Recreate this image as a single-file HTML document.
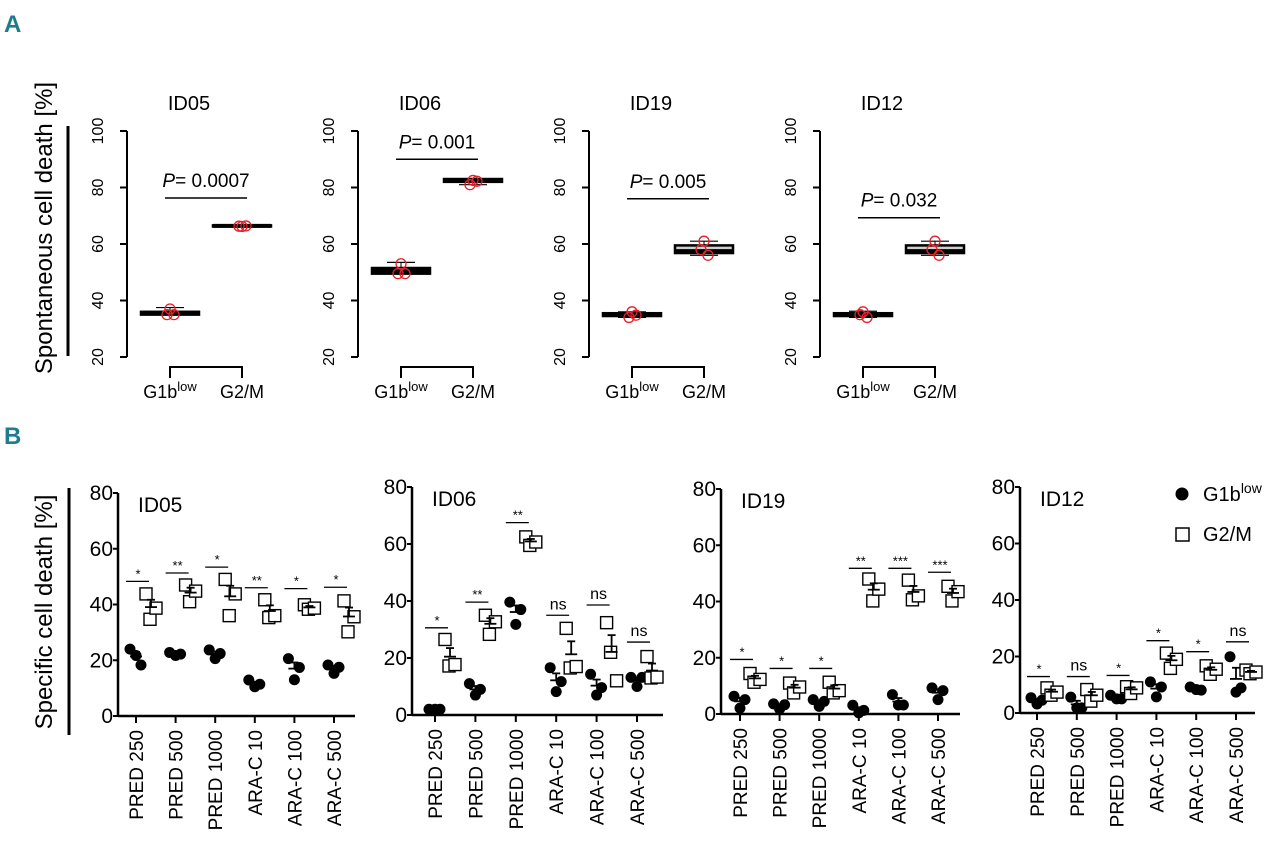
<!DOCTYPE html>
<html><head><meta charset="utf-8"><style>
html,body{margin:0;padding:0;background:#fff}
svg{display:block;font-family:"Liberation Sans Narrow","Liberation Sans",sans-serif}
</style></head><body>
<svg id="fig" width="1280" height="848" viewBox="0 0 1280 848" xmlns="http://www.w3.org/2000/svg">
<text x="4" y="32" font-size="24" font-weight="bold" fill="#1d7d8c">A</text>
<text x="4" y="444" font-size="24" font-weight="bold" fill="#1d7d8c">B</text>
<text transform="translate(52,228) rotate(-90)" text-anchor="middle" font-size="24">Spontaneous cell death [%]</text>
<line x1="68" y1="126" x2="68" y2="356" stroke="#000" stroke-width="3"/>
<text transform="translate(52,612) rotate(-90)" text-anchor="middle" font-size="24">Specific cell death [%]</text>
<line x1="69" y1="488" x2="69" y2="735" stroke="#000" stroke-width="3"/>
<g id="gA"></g><g id="gB"></g>
<circle cx="1182" cy="494" r="6.5" fill="#000"/>
<text x="1203" y="501" font-size="20">G1b<tspan dy="-8" font-size="14">low</tspan></text>
<rect x="1176" y="528" width="13" height="13" fill="#fff" stroke="#000" stroke-width="1.5"/>
<text x="1203" y="541" font-size="20">G2/M</text>
</svg>
<script>
// ---------- Panel A data ----------
const aTitles = ["ID05","ID06","ID19","ID12"];
const aPvals = ["0.0007","0.001","0.005","0.032"];
const aBarY = [76.3, 90, 76, 69.3];
const aG1bPts = [[37,35,35],[53,49.5,49.5],[36,34,34.8],[36,35,34]];
const aG2mPts = [[66.2,66.3,66.4],[82.5,81,82.2],[61,58,56],[61,58,56]];
// boxes: [whiskerLow, q1, median, q3, whiskerHigh]
const aG1bBox = [[35,35,35.5,36,37.5],[49.5,49.5,50.5,51.5,53.5],[34,34.5,35,35.5,36],[34,34.5,35,35.5,36.2]];
const aG2mBox = [[66.2,66.2,66.4,66.6,66.6],[81,82,82.5,83,83],[56,56.8,57.5,59.5,61],[56,56.8,57.5,59.5,61]];
const aTicks = [20,40,60,80,100];

// ---------- Panel B data ----------
const bTitles = ["ID05","ID06","ID19","ID12"];
const bCats = ["PRED 250","PRED 500","PRED 1000","ARA-C 10","ARA-C 100","ARA-C 500"];
const bTicks = [0,20,40,60,80];
const bG1b = [
 [[24,21.7,18.3],[22.8,21.7,22.2],[23.7,20.6,22.4],[12.9,10.5,11.4],[20.6,13,17.4],[18.3,15.3,17.5]],
 [[2,2,2],[11,7,9],[39.6,31.8,37],[16.6,8.2,11.7],[14.3,7,9.6],[13.2,10,13.2]],
 [[6.3,2.1,5.1],[3.6,1.8,3.3],[5.1,2.7,4.5],[3.1,0.4,1.3],[6.9,3.2,3.2],[9.3,5.1,8.3]],
 [[5.4,3.2,4.5],[5.6,1.8,1.8],[6.3,5,5],[11,5.7,9.2],[9.2,8.3,8.1],[19.9,7.4,8.9]]
];
const bG2m = [
 [[43.8,34.7,38.7],[47,41,44.8],[49,36,43.8],[41.7,35.3,36],[39.9,38.3,38.7],[41.3,30.2,35.6]],
 [[26.5,17.2,17.7],[35,28.3,32.7],[62.5,59.5,60.7],[30.4,16.5,17],[32.4,22,12],[20.5,13,13.3]],
 [[14.4,11.3,12.3],[11,7.5,9.6],[11.3,7.5,8.3],[48,40.2,44.4],[47.6,40.6,42],[45.4,40.2,43.5]],
 [[8.9,6.3,7.4],[8.3,4.2,6.3],[9.3,6.9,8.9],[21.2,15.8,19],[16.7,13.7,15.5],[15.2,13.9,14.5]]
];
const bSig = [
 ["*","**","*","**","*","*"],
 ["*","**","**","ns","ns","ns"],
 ["*","*","*","**","***","***"],
 ["*","ns","*","*","*","ns"]
];
const bSigY = [
 [48.3,51.3,53.4,46,45.7,46.2],
 [30.6,39.6,67.5,35,38.6,25.6],
 [19.4,16.2,16.2,51.8,51.8,50.4],
 [12.9,12.9,13.3,25.6,21.7,25.2]
];

const NS="http://www.w3.org/2000/svg";
function mk(parent,tag,attrs,text){const e=document.createElementNS(NS,tag);for(const k in attrs)e.setAttribute(k,attrs[k]);if(text!==undefined)e.textContent=text;parent.appendChild(e);return e;}
function mean(a){return a.reduce((s,v)=>s+v,0)/a.length;}
function sem(a){const m=mean(a);const sd=Math.sqrt(a.reduce((s,v)=>s+(v-m)*(v-m),0)/(a.length-1));return sd/Math.sqrt(a.length);}

// ---------- draw panel A ----------
const gA=document.getElementById('gA');
aTitles.forEach((t,k)=>{
  const ax=127+231*k;
  const y=v=>357-(v-20)*226/80;
  const g=mk(gA,'g',{});
  
  
  const tt=mk(g,'text',{x:ax+62,y:110,'font-size':20,'text-anchor':'middle'},t);
  
  
  const axl=mk(g,'line',{x1:ax,y1:y(20),x2:ax,y2:y(100),stroke:'#000','stroke-width':2});
  
  
  aTicks.forEach(v=>{
    mk(g,'line',{x1:ax-7,y1:y(v),x2:ax,y2:y(v),stroke:'#000','stroke-width':2});
    const tl=mk(g,'text',{transform:`translate(${ax-24},${y(v)}) rotate(-90)`,'text-anchor':'middle','font-size':16},String(v));
    
    
  });
  const c1=ax+43,c2=ax+115;
  mk(g,'path',{d:`M${c1},${378} V${367} H${c2} V${378}`,fill:'none',stroke:'#000','stroke-width':2});
  const l1=mk(g,'text',{x:c1,y:398,'font-size':18,'text-anchor':'middle'});
  l1.innerHTML='G1b<tspan dy="-7" font-size="13">low</tspan>';
  
  
  const l2=mk(g,'text',{x:c2,y:398,'font-size':18,'text-anchor':'middle'},'G2/M');
  
  
  [[c1,aG1bBox[k],aG1bPts[k]],[c2,aG2mBox[k],aG2mPts[k]]].forEach(([cx,b,pts])=>{
    const bg=mk(g,'g',{});
    
    
    mk(bg,'line',{x1:cx,y1:y(b[0]),x2:cx,y2:y(b[4]),stroke:'#000','stroke-width':1});
    mk(bg,'line',{x1:cx-14,y1:y(b[0]),x2:cx+14,y2:y(b[0]),stroke:'#000','stroke-width':1.2});
    mk(bg,'line',{x1:cx-14,y1:y(b[4]),x2:cx+14,y2:y(b[4]),stroke:'#000','stroke-width':1.2});
    const h=Math.max(y(b[1])-y(b[3]),1);
    mk(bg,'rect',{x:cx-29,y:y(b[3]),width:58,height:h,fill:'#cfcfcf',stroke:'#000','stroke-width':2.5});
    mk(bg,'line',{x1:cx-29,y1:y(b[2]),x2:cx+29,y2:y(b[2]),stroke:'#000','stroke-width':4});
    const dx=[0,-3,4];
    pts.forEach((v,i)=>{
      const p=mk(bg,'circle',{cx:cx+dx[i],cy:y(v),r:5,fill:'none',stroke:'#e8202a','stroke-width':1.3});
      
      
    });
  });
  const by=y(aBarY[k]);
  mk(g,'line',{x1:c1-5,y1:by,x2:c2+5,y2:by,stroke:'#000','stroke-width':1.5});
  const pt=mk(g,'text',{x:(c1+c2)/2,y:by-11,'font-size':19,'text-anchor':'middle'});
  pt.innerHTML='<tspan font-style="italic">P</tspan>= '+aPvals[k];
  
  
});

// ---------- draw panel B ----------
const gB=document.getElementById('gB');
const bAxisX=[118,412,721,1020];
const bFirst=[136,435,740,1037];
const bStep=[39.6,40.4,39.6,39.8];
const bY0=[716,715,714,713];
const bY80=[493,487,489,487];
const bEnd=[355,663,960,1255];
bTitles.forEach((t,k)=>{
  const ax=bAxisX[k];
  const y=v=>bY0[k]-v*(bY0[k]-bY80[k])/80;
  const xc=i=>bFirst[k]+bStep[k]*i;
  const g=mk(gB,'g',{});
  
  
  const tt=mk(g,'text',{x:ax+20,y:y(80)+19,'font-size':21},t);
  
  
  const ya=mk(g,'line',{x1:ax,y1:y(0),x2:ax,y2:y(80),stroke:'#000','stroke-width':2.5});
  
  
  const xa=mk(g,'line',{x1:ax,y1:y(0),x2:bEnd[k],y2:y(0),stroke:'#000','stroke-width':2.5});
  
  
  bTicks.forEach(v=>{
    mk(g,'line',{x1:ax-5,y1:y(v),x2:ax,y2:y(v),stroke:'#000','stroke-width':2});
    const tl=mk(g,'text',{x:ax-5,y:y(v)+7,'font-size':21,'text-anchor':'end'},String(v));
    
    
  });
  bCats.forEach((c,i)=>{
    const x=xc(i);
    mk(g,'line',{x1:x,y1:y(0),x2:x,y2:y(0)+7,stroke:'#000','stroke-width':2});
    const cl=mk(g,'text',{transform:`translate(${x+7},${y(0)+14}) rotate(-90)`,'text-anchor':'end','font-size':19},c);
    
    
    // G1b circles
    const cdx=[-6,0,5];
    const circ=bG1b[k][i];
    const m1=mean(circ),s1=sem(circ);
    mk(g,'line',{x1:x-6,y1:y(m1),x2:x+6,y2:y(m1),stroke:'#000','stroke-width':1.8});
    mk(g,'line',{x1:x,y1:y(m1),x2:x,y2:y(m1+s1),stroke:'#000','stroke-width':1.8});
    mk(g,'line',{x1:x-4,y1:y(m1+s1),x2:x+4,y2:y(m1+s1),stroke:'#000','stroke-width':1.8});
    circ.forEach((v,j)=>{
      const p=mk(g,'circle',{cx:x+cdx[j],cy:y(v),r:5.5,fill:'#000'});
      
      
    });
    // G2/M squares
    const sx=x+15,sdx=[-5,-1,5];
    const sq=bG2m[k][i];
    const m2=mean(sq),s2=sem(sq);
    sq.forEach((v,j)=>{
      const p=mk(g,'rect',{x:sx+sdx[j]-6,y:y(v)-6,width:12,height:12,fill:'#fff',stroke:'#000','stroke-width':1.4});
      
      
    });
    mk(g,'line',{x1:sx-6,y1:y(m2),x2:sx+6,y2:y(m2),stroke:'#000','stroke-width':1.8});
    mk(g,'line',{x1:sx,y1:y(m2),x2:sx,y2:y(m2+s2),stroke:'#000','stroke-width':1.8});
    mk(g,'line',{x1:sx-4,y1:y(m2+s2),x2:sx+4,y2:y(m2+s2),stroke:'#000','stroke-width':1.8});
    // significance
    const sy=y(bSigY[k][i]);
    mk(g,'line',{x1:x-10,y1:sy,x2:x+13,y2:sy,stroke:'#000','stroke-width':1.3});
    const isNs=bSig[k][i]==='ns';
    const st=mk(g,'text',{x:x+2,y:isNs?sy-6:sy-3,'font-size':isNs?16:13,'text-anchor':'middle'},bSig[k][i]);
    
    
  });
});
</script>
</body></html>
